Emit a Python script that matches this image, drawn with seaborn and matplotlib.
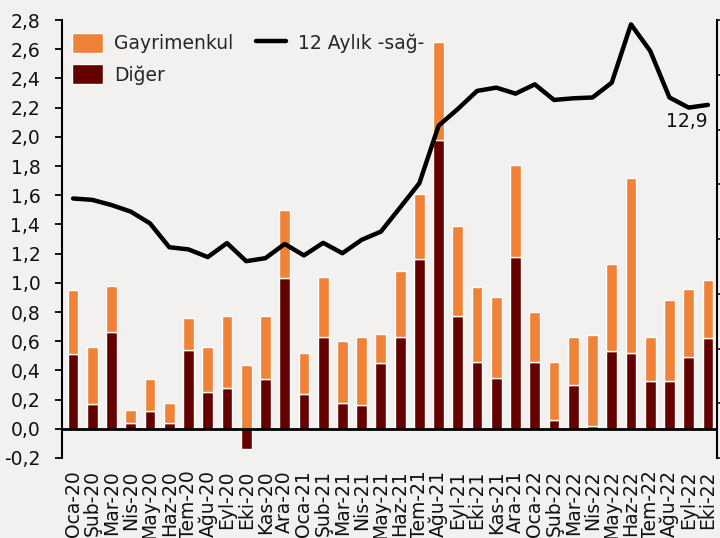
import seaborn as sns
import matplotlib.pyplot as plt
from matplotlib.ticker import FuncFormatter, MultipleLocator
import numpy as np

months = ['Oca-20', 'Şub-20', 'Mar-20', 'Nis-20', 'May-20', 'Haz-20', 'Tem-20', 'Ağu-20',
          'Eyl-20', 'Eki-20', 'Kas-20', 'Ara-20',
          'Oca-21', 'Şub-21', 'Mar-21', 'Nis-21', 'May-21', 'Haz-21', 'Tem-21', 'Ağu-21',
          'Eyl-21', 'Eki-21', 'Kas-21', 'Ara-21',
          'Oca-22', 'Şub-22', 'Mar-22', 'Nis-22', 'May-22', 'Haz-22', 'Tem-22', 'Ağu-22',
          'Eyl-22', 'Eki-22']

diger = [0.51, 0.17, 0.66, 0.04, 0.12, 0.04, 0.54, 0.25, 0.28, -0.14, 0.34, 1.03,
         0.24, 0.63, 0.18, 0.16, 0.45, 0.63, 1.16, 1.98, 0.77, 0.46, 0.35, 1.18,
         0.46, 0.06, 0.30, 0.02, 0.53, 0.52, 0.33, 0.33, 0.49, 0.62]

gayrimenkul = [0.44, 0.39, 0.32, 0.09, 0.22, 0.14, 0.22, 0.31, 0.49, 0.44, 0.43, 0.47,
               0.28, 0.41, 0.42, 0.47, 0.20, 0.45, 0.45, 0.67, 0.62, 0.51, 0.55, 0.63,
               0.34, 0.40, 0.33, 0.62, 0.60, 1.20, 0.30, 0.55, 0.47, 0.40]

yillik = [9.48, 9.43, 9.24, 9.00, 8.57, 7.70, 7.62, 7.34, 7.85, 7.19, 7.30, 7.82,
          7.40, 7.86, 7.48, 7.97, 8.27, 9.15, 10.04, 12.14, 12.75, 13.41, 13.53, 13.31,
          13.65, 13.08, 13.14, 13.17, 13.71, 15.84, 14.87, 13.17, 12.80, 12.90]

sns.set_theme(style='white')
plt.rcParams['font.family'] = ['DejaVu Sans']

bg = '#F2F1EF'
orange = '#EF8236'
maroon = '#640000'

fig = plt.figure(figsize=(7.2, 5.38), dpi=100, facecolor=bg)
ax = fig.add_axes([0.0868, 0.1487, 0.9090, 0.8141])
ax.set_facecolor(bg)

x = np.arange(len(months))
d = np.array(diger)
bottom = np.where(d > 0, d, 0)
ax.bar(x, diger, width=0.56, color=maroon, label='Diğer', zorder=2)
ax.bar(x, gayrimenkul, bottom=bottom, width=0.56, color=orange, label='Gayrimenkul', zorder=2)
ax.axhline(0, color='black', lw=2, zorder=3)

ax.set_xlim(-0.55, 33.47)
ax.set_ylim(-0.2, 2.8)
ax.yaxis.set_major_locator(MultipleLocator(0.2))
ax.yaxis.set_major_formatter(FuncFormatter(lambda v, p: f'{v:.1f}'.replace('.', ',')))
ax.set_xticks(x)
ax.set_xticklabels(months, rotation=90)
ax.tick_params(axis='x', length=0, pad=9, labelsize=13.5, colors='#111111')
ax.tick_params(axis='y', left=True, length=5, width=1.3, pad=11, labelsize=13.5,
               direction='out', colors='black', labelcolor='#111111')
for s in ['top', 'right', 'bottom']:
    ax.spines[s].set_visible(False)
ax.spines['left'].set_color('black')
ax.spines['left'].set_linewidth(1.5)

ax2 = ax.twinx()
sns.lineplot(x=x, y=yillik, ax=ax2, color='black', lw=3.2, label='12 Aylık -sağ-', legend=False)
ax2.set_ylim(0, 16)
ax2.yaxis.set_major_locator(MultipleLocator(2))
ax2.tick_params(axis='y', right=True, length=6, width=1.3, direction='out', labelright=False)
for s in ['top', 'left', 'bottom']:
    ax2.spines[s].set_visible(False)
ax2.spines['right'].set_color('black')
ax2.spines['right'].set_linewidth(1.5)
ax2.set_ylabel('')
ax2.text(33, 12.65, '12,9', ha='right', va='top', fontsize=13.5, color='#111111')

h1, l1 = ax.get_legend_handles_labels()
h2, l2 = ax2.get_legend_handles_labels()
handles = [h1[1], h1[0], h2[0]]
labels = [l1[1], l1[0], l2[0]]
ax2.legend(handles, labels, ncol=2, loc='upper left', bbox_to_anchor=(-0.009, 1.005),
           frameon=False, fontsize=13.5, handlelength=1.65, handleheight=1.25,
           columnspacing=1.2, labelspacing=0.6, handletextpad=0.6, borderaxespad=0.4)

fig.savefig('out.png', dpi=100, facecolor=bg)
